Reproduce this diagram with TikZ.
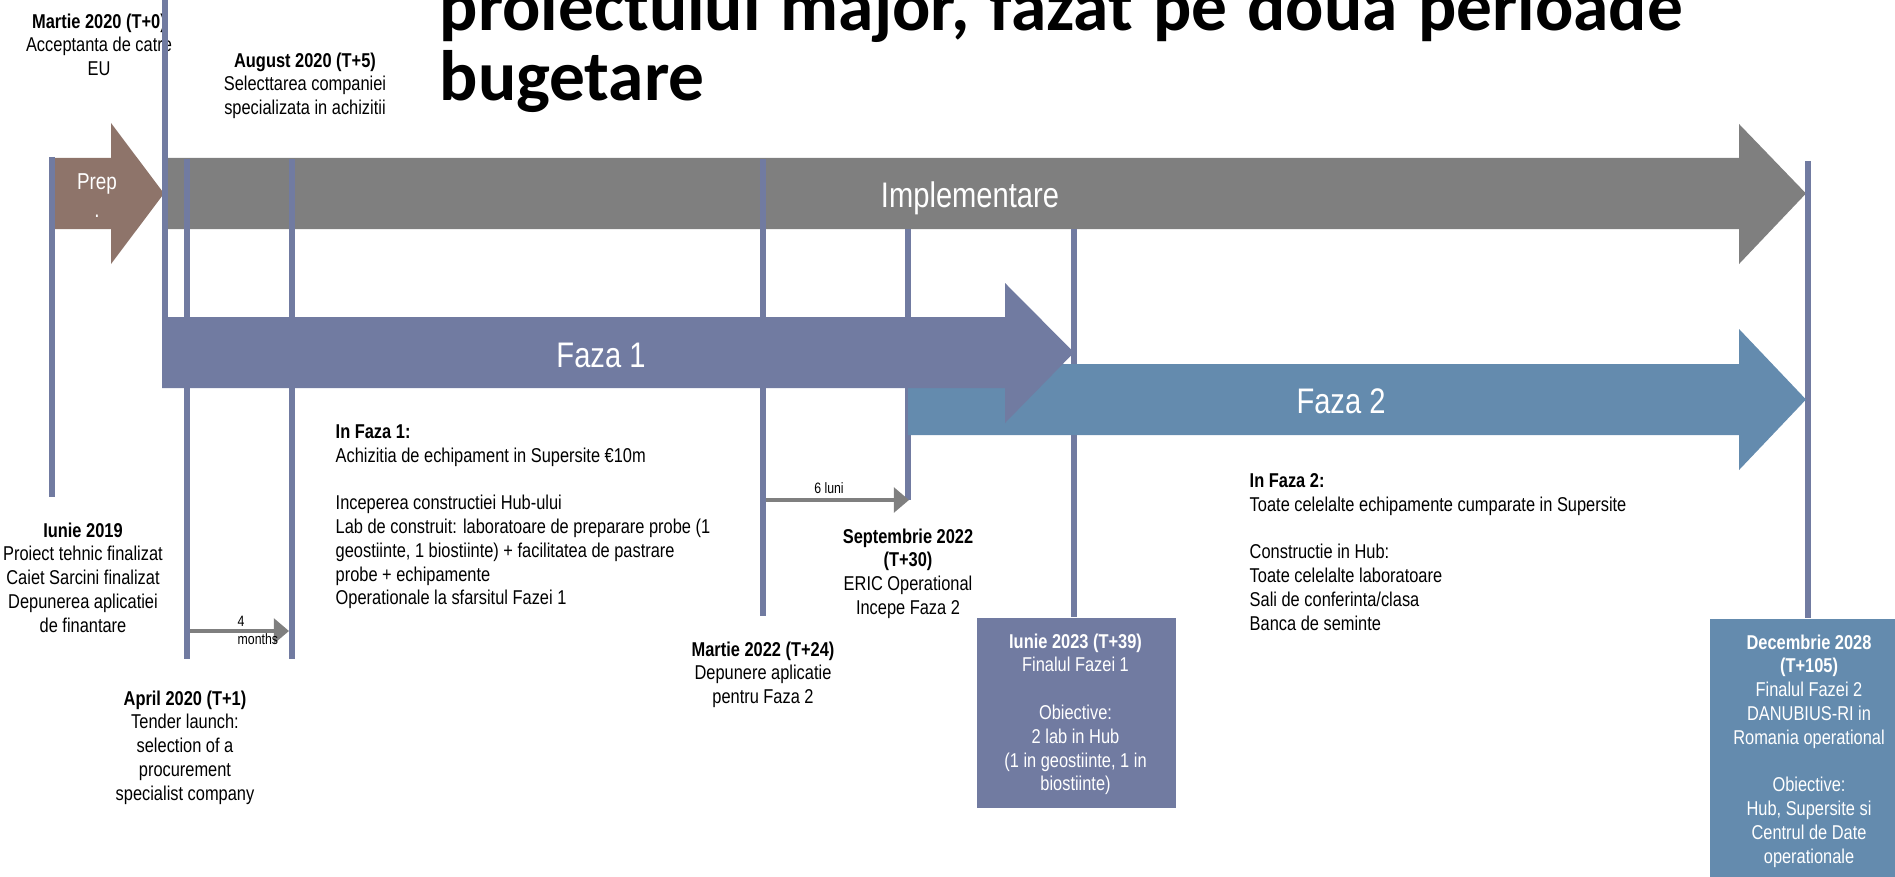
\documentclass[tikz,border=0pt]{standalone}
\usepackage{fontspec}
\setmainfont{Liberation Sans}
\newfontfamily\narrowfont[FakeStretch=0.82]{Liberation Sans}
\newfontfamily\titlefont[WordSpace=1.25]{Carlito}
\usetikzlibrary{arrows.meta}
\definecolor{slate}{HTML}{717BA1}
\definecolor{steel}{HTML}{648BAE}
\definecolor{greyarr}{HTML}{7F7F7F}
\definecolor{prepbrown}{HTML}{8E746A}
\lineskiplimit=-100pt\relax
\begin{document}
\begin{tikzpicture}[x=0.01cm,y=-0.01cm,
  txt/.style={font=\narrowfont\fontsize{5.69pt}{6.77pt}\selectfont, inner sep=0pt, align=center, anchor=north,
    execute at begin node=\strut, execute at end node=\strut},
  txtl/.style={txt, align=left, anchor=north west},
  wtxt/.style={txt, text=white},
  biglbl/.style={font=\narrowfont\fontsize{10.1pt}{12pt}\selectfont, text=white, inner sep=0pt, anchor=base},
  small/.style={font=\narrowfont\fontsize{4.27pt}{5.12pt}\selectfont, inner sep=0pt},
  vbar/.style={draw=slate, line width=1.71pt},
  smallarrow/.style={draw=greyarr, line width=1.4pt, -{Triangle[length=4.3pt,width=7pt]}},
  titlestyle/.style={font=\titlefont\bfseries\fontsize{20.3pt}{19.7pt}\selectfont, anchor=north west, align=left, inner sep=0pt, execute at begin node={\rule{0pt}{16pt}}}
]
\useasboundingbox (0,0) rectangle (1895,876);
\clip (0,0) rectangle (1895,876);

% title (partly cut off at the top, as in the reference)
\node[titlestyle] (title) at (439,-20) {proiectului major, fazat pe doua perioade\\bugetare};

% text under the T+0 line
\node[txt] (t0) at (99,12.8) {\textbf{Martie 2020 (T+0)}\\Acceptanta de catre\\EU};

% Implementare arrow
\fill[greyarr] (165,158) -- (1739,158) -- (1739,124) -- (1806,193.5) -- (1739,264) -- (1739,229) -- (165,229) -- cycle;
% Prep arrow
\fill[prepbrown] (55,158) -- (111,158) -- (111,123) -- (164,193.5) -- (111,264) -- (111,229) -- (55,229) -- cycle;

% vertical milestone lines
\draw[vbar] (52,157) -- (52,497);
\draw[vbar] (165,0) -- (165,317);
\draw[vbar] (187,159) -- (187,659);
\draw[vbar] (292,159) -- (292,659);
\draw[vbar] (763,159) -- (763,616);
\draw[vbar] (908,229) -- (908,500);
\draw[vbar] (1074,229) -- (1074,617);
\draw[vbar] (1808,161) -- (1808,618);

% Faza 2 arrow
\fill[steel] (908,364) -- (1739,364) -- (1739,329) -- (1806,399.5) -- (1739,470) -- (1739,435) -- (908,435) -- cycle;
% Faza 1 arrow
\fill[slate] (162,317) -- (1005,317) -- (1005,283) -- (1074,352.5) -- (1005,423) -- (1005,388) -- (162,388) -- cycle;

% arrow labels
\node[biglbl] (impl) at (970,207) {Implementare};
\node[biglbl] (faza1) at (601,367) {Faza 1};
\node[biglbl] (faza2) at (1341,413) {Faza 2};
\node[font=\narrowfont\fontsize{6.54pt}{7.97pt}\selectfont, text=white, inner sep=0pt, align=center, anchor=north,
  execute at begin node=\strut] (prep) at (97,173) {Prep\\.};

% small duration arrows
\coordinate (m4s) at (190,631);
\coordinate (m4e) at (289,631);
\draw[smallarrow] (m4s) -- (m4e);
\node[small, align=left, anchor=north west, execute at begin node=\strut] (m4) at (237,615.8) {4\\months};
\coordinate (l6s) at (766,500);
\coordinate (l6e) at (909,500);
\draw[smallarrow] (l6s) -- (l6e);
\node[small, anchor=base] (l6) at (829,493) {6 luni};

% boxes
\node[fill=slate, minimum width=1.99cm, minimum height=1.90cm, inner sep=0pt, anchor=north west] (box1) at (976,617) {};
\node[wtxt] (box1t) at (1075.5,632.8) {\textbf{Iunie 2023 (T+39)}\\Finalul Fazei 1\\[6.77pt]Obiective:\\2 lab in Hub\\(1 in geostiinte, 1 in\\biostiinte)};
\node[fill=steel, minimum width=1.95cm, minimum height=2.70cm, inner sep=0pt, anchor=north west] (box2) at (1709,618) {};
\node[wtxt] (box2t) at (1809,633.8) {\textbf{Decembrie 2028}\\\textbf{(T+105)}\\Finalul Fazei 2\\DANUBIUS-RI in\\Romania operational\\[6.77pt]Obiective:\\Hub, Supersite si\\Centrul de Date\\operationale};

% milestone texts
\node[txt] (t5) at (305,51.8) {\textbf{August 2020 (T+5)}\\Selecttarea companiei\\specializata in achizitii};
\node[txt] (j19) at (83,521.8) {\textbf{Iunie 2019}\\Proiect tehnic finalizat\\Caiet Sarcini finalizat\\Depunerea aplicatiei\\de finantare};
\node[txt] (t1) at (185,689.8) {\textbf{April 2020 (T+1)}\\Tender launch:\\selection of a\\procurement\\specialist company};
\node[txtl] (f1) at (335,423.8) {\textbf{In Faza 1:}\\Achizitia de echipament in Supersite €10m\\[6.77pt]Inceperea constructiei Hub-ului\\Lab de construit: laboratoare de preparare probe (1\\geostiinte, 1 biostiinte) + facilitatea de pastrare\\probe + echipamente\\Operationale la sfarsitul Fazei 1};
\node[txt] (t24) at (763,640.8) {\textbf{Martie 2022 (T+24)}\\Depunere aplicatie\\pentru Faza 2};
\node[txt] (t30) at (908,527.8) {\textbf{Septembrie 2022}\\\textbf{(T+30)}\\ERIC Operational\\Incepe Faza 2};
\node[txtl] (f2) at (1249,472.8) {\textbf{In Faza 2:}\\Toate celelalte echipamente cumparate in Supersite\\[6.77pt]Constructie in Hub:\\Toate celelalte laboratoare\\Sali de conferinta/clasa\\Banca de seminte};
\end{tikzpicture}
\end{document}
